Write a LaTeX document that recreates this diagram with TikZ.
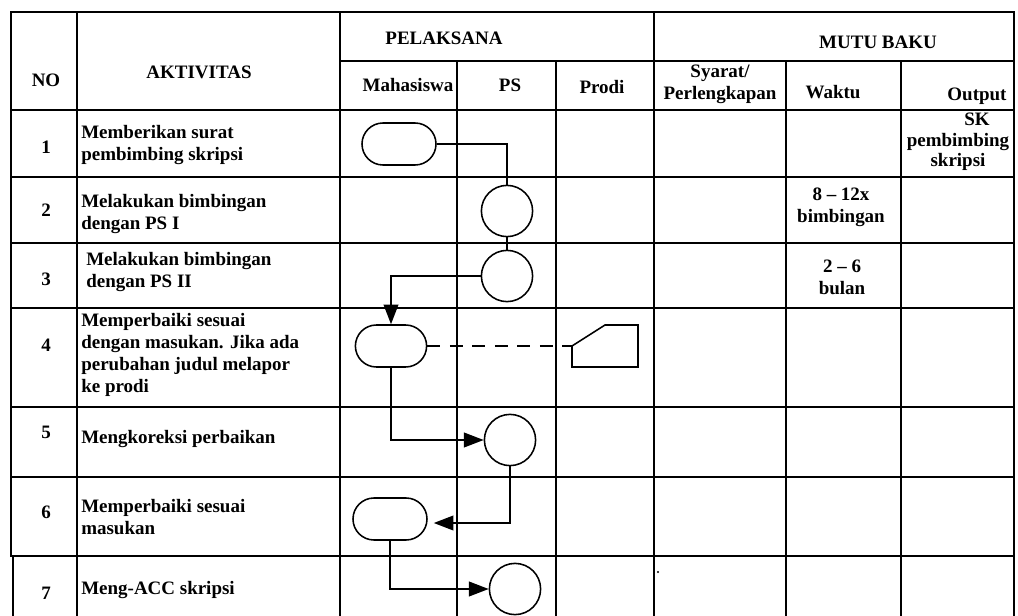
\documentclass[tikz,border=0pt]{standalone}
\usepackage{fontspec}
\setmainfont{Liberation Serif}
\usetikzlibrary{arrows.meta,shapes.misc}

\begin{document}
\begin{tikzpicture}[x=0.025cm, y=-0.025cm,
  font=\bfseries\fontsize{13.5}{15.6}\selectfont,
  grid/.style={line width=1.4pt, line cap=rect},
  flow/.style={line width=1.1pt},
  arr/.style={flow, -{Triangle[length=14pt,width=10.5pt]}},
  actbox/.style={rounded rectangle, draw, line width=1.1pt, minimum width=1.85cm, minimum height=1.05cm, inner sep=0pt},
  actcirc/.style={circle, draw, line width=1.1pt, minimum size=1.28cm, inner sep=0pt},
  txt/.style={anchor=west, align=left, inner sep=0pt},
  ctr/.style={align=center, inner sep=0pt}]
\useasboundingbox (0,0) rectangle (1018,616);

% table
\draw[grid] (11,12) -- (1014,12);
\draw[grid] (340,61) -- (1014,61);
\foreach \y in {110,177,243,308,407,477,556}
  \draw[grid] (11,\y) -- (1014,\y);
\draw[grid] (11,12) -- (11,556) (13,556) -- (13,616);
\foreach \x in {77,340,654,1014}
  \draw[grid] (\x,12) -- (\x,616);
\foreach \x in {457,556,786,901}
  \draw[grid] (\x,61) -- (\x,616);

% header
\node[ctr] (hno) at (46,80) {NO};
\node[ctr] (hakt) at (199,72) {AKTIVITAS};
\node[ctr] (hpel) at (444,38) {PELAKSANA};
\node[ctr] (hmutu) at (878,42) {MUTU BAKU};
\node[ctr] (hmhs) at (408,85) {Mahasiswa};
\node[ctr] (hps) at (510,85) {PS};
\node[ctr] (hprodi) at (602,87) {Prodi};
\node[ctr] (hsyarat) at (720,84) {Syarat/\\Perlengkapan};
\node[ctr] (hwaktu) at (833,92) {Waktu};
\node[ctr] (houtput) at (977,96) {Output};

% numbers
\foreach \n/\y in {1/147,2/210,3/279,4/345,5/432,6/512,7/593}
  \node[ctr] (no\n) at (46,\y) {\n};

% activities
\node[txt] (a1) at (81,145) {Memberikan surat\\pembimbing skripsi};
\node[txt] (a2) at (81,214) {Melakukan bimbingan\\dengan PS I};
\node[txt] (a3) at (86,272) {Melakukan bimbingan\\dengan PS II};
\node[txt] (a4) at (81,355) {Memperbaiki sesuai\\dengan masukan. Jika ada\\perubahan judul melapor\\ke prodi};
\node[txt] (a5) at (81,439) {Mengkoreksi perbaikan};
\node[txt] (a6) at (81,517) {Memperbaiki sesuai\\masukan};
\node[txt] (a7) at (81,590) {Meng-ACC skripsi};

% mutu baku
\node[ctr] (w2) at (841,207) {8 -- 12x\\bimbingan};
\node[ctr] (w3) at (842,277) {2 -- 6\\bulan};
\node[ctr, font=\bfseries\fontsize{13.5}{14.5}\selectfont] (o1) at (958,142) {\hspace*{2em}SK\\pembimbing\\skripsi};
\fill (658,572) circle (0.8pt);

% flow
\node[actbox] (s1) at (399,144) {};
\node[actcirc] (c2) at (507,211) {};
\node[actcirc] (c3) at (507,276) {};
\node[actbox, minimum width=1.78cm] (s4) at (391,346) {};
\coordinate (inp) at (572,346);
\draw[flow] (inp) -- (572,367) -- (638,367) -- (638,325) -- (605,325) -- cycle;
\node[actcirc] (c5) at (510,440) {};
\node[actbox] (s6) at (390,519) {};
\node[actcirc] (c7) at (515,589) {};

\draw[flow] (s1.east) -| (c2.north);
\draw[flow] (c2.south) -- (c3.north);
\draw[arr] (c3.west) -| (s4.north);
\draw[flow, dash pattern=on 9pt off 7pt] (s4.east) -- (inp);
\draw[arr] (s4.south) |- (c5.west);
\draw[arr] (c5.south) |- ([shift={(6,4)}]s6.east);
\draw[arr] (s6.south) |- (c7.west);
\end{tikzpicture}
\end{document}
